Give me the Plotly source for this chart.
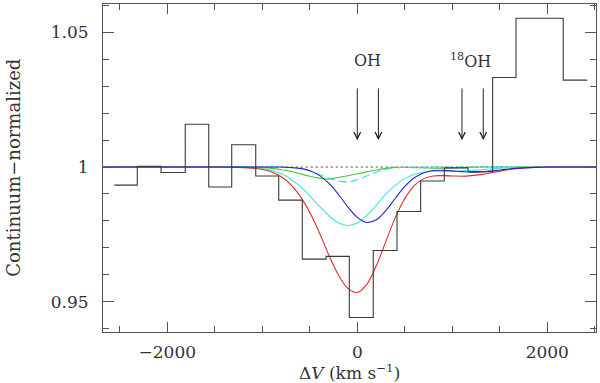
import plotly.graph_objects as go

# observed spectrum, binned (bin edges in km/s, continuum-normalized flux)
bin_edges = [-2558, -2316, -2066, -1811, -1564, -1322, -1069, -827, -579, -329,
             -84, 168, 418, 667, 916, 1166, 1425, 1671, 2168, 2421]
flux = [0.9933, 1.0003, 0.9980, 1.0159, 0.9926, 1.0083, 0.9967, 0.9877, 0.9658,
        0.9668, 0.9441, 0.9690, 0.9835, 0.9948, 0.9997, 0.9983, 1.0333, 1.0553, 1.0323]

# model curves
model_v = [-2700, -1500, -1400, -1300, -1200, -1100, -1000, -900, -800, -700,
           -600, -500, -400, -300, -200, -100, 0, 100, 200, 300,
           400, 500, 600, 700, 800, 900, 1000, 1100, 1200, 1300,
           1400, 1500, 1600, 1700, 1800, 1900, 2000, 2600]
green = [1.0, 1.0, 1.0, 1.0, 1.0, 0.9999, 0.9998, 0.9995, 0.9990, 0.9984,
         0.9975, 0.9966, 0.9959, 0.9955, 0.9961, 0.9968, 0.9975, 0.9982, 0.9989, 0.9995,
         0.9999, 0.9999, 0.9998, 0.9997, 0.9996, 0.9996, 0.9997, 0.9998, 0.9999, 1.0,
         1.0, 1.0, 1.0, 1.0, 1.0, 1.0, 1.0, 1.0]
cyan_dash = [1.0, 1.0, 1.0, 1.0, 1.0, 1.0, 1.0, 1.0, 0.9999, 0.9998,
             0.9994, 0.9986, 0.9973, 0.9959, 0.9948, 0.9945, 0.9953, 0.9967, 0.9981, 0.9991,
             0.9997, 0.9999, 1.0, 1.0, 1.0, 1.0, 1.0, 1.0, 1.0, 1.0,
             1.0, 1.0, 1.0, 1.0, 1.0, 1.0, 1.0, 1.0]
cyan = [1.0, 1.0, 1.0, 1.0, 0.9999, 0.9997, 0.9994, 0.9987, 0.9975, 0.9955,
        0.9928, 0.9893, 0.9855, 0.9819, 0.9793, 0.9783, 0.9792, 0.9820, 0.9858, 0.9899,
        0.9932, 0.9957, 0.9973, 0.9981, 0.9984, 0.9984, 0.9984, 0.9986, 0.9988, 0.9990,
        0.9993, 0.9996, 0.9997, 0.9999, 0.9999, 1.0, 1.0, 1.0]
blue = [1.0, 1.0, 1.0, 1.0, 1.0, 1.0, 1.0, 1.0, 1.0, 0.9998,
        0.9995, 0.9986, 0.9969, 0.9940, 0.9899, 0.9852, 0.9813, 0.9794, 0.9804, 0.9838,
        0.9884, 0.9928, 0.9960, 0.9979, 0.9987, 0.9988, 0.9986, 0.9983, 0.9981, 0.9982,
        0.9985, 0.9989, 0.9993, 0.9996, 0.9998, 0.9999, 1.0, 1.0]
red = [1.0, 1.0, 1.0, 0.9999, 0.9998, 0.9996, 0.9991, 0.9982, 0.9964, 0.9935,
       0.9891, 0.9831, 0.9757, 0.9673, 0.9600, 0.9549, 0.9534, 0.9564, 0.9633, 0.9723,
       0.9812, 0.9883, 0.9931, 0.9957, 0.9967, 0.9968, 0.9967, 0.9966, 0.9968, 0.9972,
       0.9978, 0.9985, 0.9991, 0.9995, 0.9998, 0.9999, 1.0, 1.0]

continuum_v = [-2700, 2600]
continuum = [1.0, 1.0]

# line positions (km/s) for the arrows
oh_lines = [0, 222]
oh18_lines = [1102, 1326]

font = "DejaVu Serif"
ink = "#333333"

fig = go.Figure()

fig.add_trace(go.Scatter(x=continuum_v, y=continuum, mode="lines",
                         line=dict(color="rgb(130,40,60)", width=1, dash="2px,3px")))

for ys, col, dash in [(green, "rgb(70,200,60)", "solid"),
                      (cyan_dash, "rgb(60,220,230)", "8px,4px"),
                      (cyan, "rgb(60,230,235)", "solid"),
                      (red, "rgb(230,40,40)", "solid"),
                      (blue, "rgb(35,35,200)", "solid")]:
    fig.add_trace(go.Scatter(x=model_v, y=ys, mode="lines",
                             line=dict(color=col, width=1.1, dash=dash, shape="spline")))

fig.add_trace(go.Scatter(x=bin_edges, y=flux + [flux[-1]], mode="lines",
                         line=dict(color="#3a3a3a", width=1.1, shape="hv")))

for v in oh_lines + oh18_lines:
    fig.add_annotation(x=v, y=1.010, ax=v, ay=1.0298, xref="x", yref="y",
                       axref="x", ayref="y", text="", showarrow=True,
                       arrowhead=5, arrowsize=1.3, arrowwidth=1, arrowcolor="#222")

fig.add_annotation(x=111, y=1.0395, text="OH", showarrow=False,
                   font=dict(family=font, size=16, color=ink))
fig.add_annotation(x=1190, y=1.0395, text="<sup>18</sup>OH", showarrow=False,
                   font=dict(family=font, size=16, color=ink))

# axis titles
fig.add_annotation(x=0.5, y=-0.121, xref="paper", yref="paper", showarrow=False,
                   text="Δ<i>V</i> (km s<sup>−1</sup>)", yanchor="middle",
                   font=dict(family=font, size=17, color=ink))
fig.add_annotation(x=-0.183, y=0.5, xref="paper", yref="paper", showarrow=False,
                   text="Continuum−normalized", textangle=-90, xanchor="center",
                   font=dict(family=font, size=18, color=ink))

axis_common = dict(showline=True, linecolor="#555", linewidth=1, mirror="ticks",
                   ticks="inside", tickcolor="#555", showgrid=False, zeroline=False,
                   automargin=False,
                   tickfont=dict(family=font, size=17, color=ink))

fig.update_xaxes(range=[-2677, 2513], tickvals=[-2000, 0, 2000], ticklen=10,
                 minor=dict(dtick=500, tick0=0, ticklen=6, ticks="inside", tickcolor="#555"),
                 ticklabelstandoff=5, **axis_common)
fig.update_yaxes(range=[0.9387, 1.0606], tickvals=[0.95, 1, 1.05],
                 ticktext=["0.95", "1", "1.05"], ticklen=11,
                 minor=dict(dtick=0.01, tick0=0.95, ticklen=6, ticks="inside", tickcolor="#555"),
                 ticklabelstandoff=10, **axis_common)

fig.update_layout(width=600, height=383, showlegend=False,
                  margin=dict(l=103, r=4, t=4, b=51),
                  paper_bgcolor="white", plot_bgcolor="white")

# page body has a default 8px margin; drop it so the figure sits at the corner
fig.write_html("out.html", config={"displayModeBar": False},
               post_script="document.body.style.margin='0';")
